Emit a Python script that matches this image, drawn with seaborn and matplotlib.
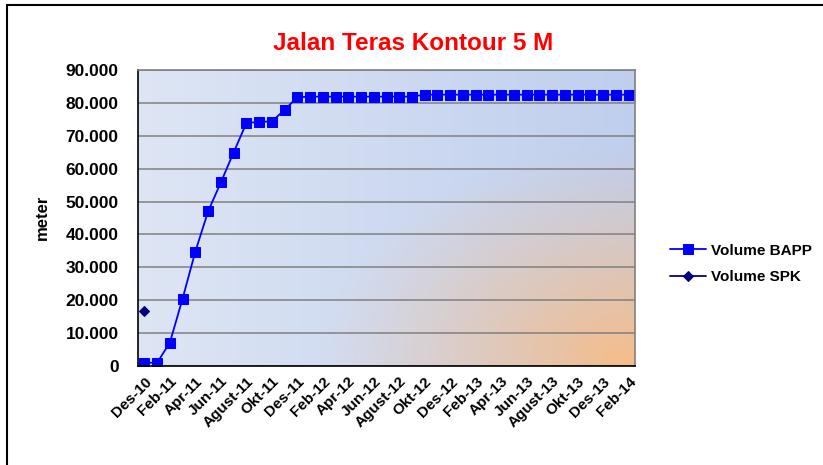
import numpy as np
import pandas as pd
import matplotlib
matplotlib.use("Agg")
import matplotlib.pyplot as plt
import seaborn as sns
from matplotlib.patches import Rectangle

# month labels Des-10 .. Feb-14 (Indonesian names)
month_names = ['Jan', 'Feb', 'Mar', 'Apr', 'Mei', 'Jun', 'Jul', 'Agust', 'Sep', 'Okt', 'Nov', 'Des']
months = ['Des-10']
for yr in ['11', '12', '13']:
    months += [m + '-' + yr for m in month_names]
months += ['Jan-14', 'Feb-14']

# cumulative volume (meter)
bapp = [1000, 1000, 7100, 20500, 34800, 47000, 55800, 64900, 73800, 74300,
        74300, 77900, 81700] + [81900] * 9 + [82500] * 17
spk = [16800] + [np.nan] * 38

df = pd.DataFrame({'pos': range(len(months)), 'month': months,
                   'Volume BAPP': bapp, 'Volume SPK': spk})

sns.set_style('white')
plt.rcParams['font.family'] = ['Liberation Sans', 'DejaVu Sans']
plt.rcParams['font.weight'] = 'bold'
plt.rcParams['text.color'] = 'black'
plt.rcParams['xtick.color'] = 'black'
plt.rcParams['ytick.color'] = 'black'

fig = plt.figure(figsize=(8.23, 4.65), dpi=100)
W, H = 823, 465
ax = fig.add_axes([138 / W, 1 - 366 / H, (635 - 138) / W, (366 - 70) / H])

# background gradient: light blue to blue, orange glow at bottom-right
nx, ny = 300, 200
gx, gy = np.meshgrid(np.linspace(0, 1, nx), np.linspace(1, 0, ny))
left_c = np.array([0.87, 0.90, 0.96])
mid_c = np.array([0.75, 0.81, 0.93])
orange = np.array([0.97, 0.74, 0.53])
t = gx[..., None]
base = left_c * (1 - t) + mid_c * t
d = np.sqrt(((1 - gx) / 0.64) ** 2 + (gy / 0.75) ** 2)
w = np.clip(1 - d, 0, 1)[..., None] ** 1.15
img = base * (1 - w) + orange * w
ax.imshow(img, extent=[0, 1, 0, 1], transform=ax.transAxes, aspect='auto', zorder=0)

sns.lineplot(data=df, x='pos', y='Volume BAPP', ax=ax, color='#0000ff', marker='s',
             markersize=6.8, markeredgecolor='#0000ff', linewidth=1.3, label='Volume BAPP', zorder=3)
sns.lineplot(data=df, x='pos', y='Volume SPK', ax=ax, color='#000080', marker='D',
             markersize=5, markeredgecolor='#000080', linewidth=1.3, label='Volume SPK', zorder=3)

ax.set_xlim(-0.5, len(months) - 0.5)
ax.set_ylim(0, 90000)
ax.set_yticks(range(0, 90001, 10000))
ax.set_yticklabels(['0'] + ['{:,}'.format(v).replace(',', '.') for v in range(10000, 90001, 10000)],
                   fontsize=12.5, fontweight='bold')
ax.set_xticks(df['pos'][::2])
ax.set_xticklabels(df['month'][::2], rotation=45, ha='right', rotation_mode='anchor',
                   fontsize=11, fontweight='bold')
ax.tick_params(axis='both', length=0, pad=6)
ax.tick_params(axis='y', pad=14)
ax.yaxis.grid(True, color='#808080', linewidth=1.1)
ax.set_axisbelow(False)
for gl in ax.get_ygridlines():
    gl.set_zorder(1)
ax.set_xlabel('')
ax.set_ylabel('')
for side in ['top', 'right']:
    ax.spines[side].set_color('#808080')
for side in ['left', 'bottom']:
    ax.spines[side].set_color('black')
for s in ax.spines.values():
    s.set_linewidth(1.2)
    s.set_zorder(4)

fig.text(413 / W, 1 - 43 / H, 'Jalan Teras Kontour 5 M', color='#ff0000',
         fontsize=17.5, fontweight='bold', ha='center', va='center')
fig.text(42 / W, 1 - 217 / H, 'meter', rotation=90, fontsize=12,
         fontweight='bold', ha='center', va='center')

ax.legend(loc='upper left', bbox_to_anchor=(656 / W, 1 - 230 / H), bbox_transform=fig.transFigure,
          frameon=False, prop={'weight': 'bold', 'size': 11}, handlelength=2.4,
          handletextpad=0.3, labelspacing=0.8)

fig.patches.append(Rectangle((7 / W, -0.2), 1.2, (460 / H) + 0.2, transform=fig.transFigure,
                             fill=False, edgecolor='black', linewidth=1.5, clip_on=False))

fig.savefig('out.png', dpi=100, facecolor='white')
